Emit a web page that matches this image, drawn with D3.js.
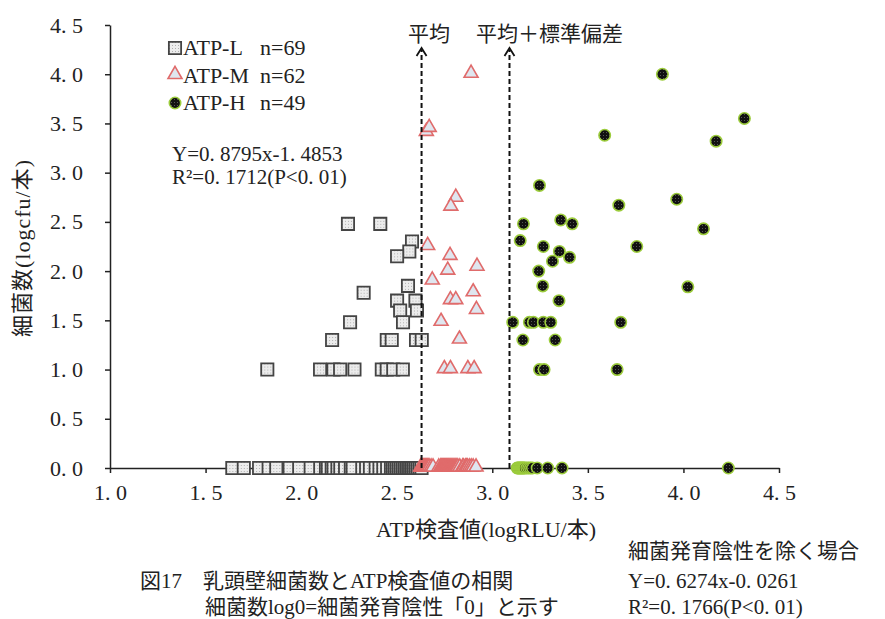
<!DOCTYPE html>
<html>
<head>
<meta charset="utf-8">
<script src="https://cdn.jsdelivr.net/npm/d3@7"></script>
<style>
  body { margin: 0; background: #fff; }
  text { font-family: "Liberation Serif", "Noto Sans CJK JP", serif; fill: #222; }
</style>
</head>
<body>
<div class="chart"></div>
<script>
// tick values
const xTicks = [1.0, 1.5, 2.0, 2.5, 3.0, 3.5, 4.0, 4.5];
const yTicks = [0.0, 0.5, 1.0, 1.5, 2.0, 2.5, 3.0, 3.5, 4.0, 4.5];

// reference lines (mean, mean + SD)
const meanX = 2.63, meanSdX = 3.09;

// ATP-L (n=69): [ATP, bacteria]
const atpL = [
  [2.245, 2.48], [2.414, 2.48], [2.58, 2.30], [2.566, 2.20], [2.502, 2.15],
  [2.327, 1.78], [2.559, 1.85], [2.502, 1.70], [2.598, 1.70], [2.518, 1.60],
  [2.606, 1.60], [2.256, 1.48], [2.533, 1.48], [2.162, 1.30], [2.448, 1.30],
  [2.474, 1.30], [2.601, 1.30], [2.631, 1.30],
  [1.823, 1.0], [2.099, 1.0], [2.169, 1.0], [2.204, 1.0], [2.279, 1.0],
  [2.422, 1.0], [2.448, 1.0], [2.482, 1.0], [2.532, 1.0]
];
const atpLZero = [1.64, 1.70, 1.78, 1.83, 1.87, 1.94, 1.99, 2.05, 2.10, 2.13,
  2.14, 2.16, 2.17, 2.19, 2.205, 2.23, 2.26, 2.27, 2.32, 2.34, 2.36, 2.39, 2.41,
  2.43, 2.45, 2.47, 2.48, 2.49, 2.50, 2.51, 2.52, 2.53, 2.54, 2.55, 2.56, 2.57,
  2.58, 2.59, 2.60, 2.61, 2.62, 2.63];

// ATP-M (n=62)
const atpM = [
  [2.889, 4.0], [2.655, 3.41], [2.67, 3.45], [2.809, 2.74], [2.783, 2.65],
  [2.662, 2.25], [2.779, 2.15], [2.767, 2.0], [2.92, 2.04], [2.686, 1.90],
  [2.781, 1.70], [2.809, 1.70], [2.90, 1.78], [2.917, 1.60], [2.732, 1.48],
  [2.828, 1.30], [2.749, 1.0], [2.781, 1.0], [2.872, 1.0], [2.905, 1.0]
];
const atpMZero = [2.625, 2.63, 2.635, 2.64, 2.645, 2.65, 2.655, 2.66, 2.665, 2.67,
  2.68, 2.69, 2.72, 2.73, 2.735, 2.74, 2.745, 2.75, 2.755, 2.76, 2.765, 2.77,
  2.775, 2.78, 2.785, 2.79, 2.795, 2.80, 2.805, 2.81, 2.815, 2.82, 2.83, 2.845,
  2.85, 2.86, 2.865, 2.87, 2.88, 2.89, 2.90, 2.915];

// ATP-H (n=49)
const atpH = [
  [3.89, 4.0], [4.319, 3.55], [3.588, 3.38], [4.171, 3.32], [3.247, 2.87],
  [3.662, 2.67], [3.965, 2.73], [4.105, 2.43], [3.163, 2.48], [3.358, 2.52],
  [3.418, 2.48], [3.146, 2.31], [3.267, 2.25], [3.351, 2.20], [3.756, 2.25],
  [3.404, 2.14], [3.315, 2.10], [3.243, 2.0], [3.264, 1.85], [4.023, 1.84],
  [3.349, 1.70], [3.107, 1.48], [3.194, 1.48], [3.215, 1.48], [3.267, 1.48],
  [3.306, 1.48], [3.672, 1.48], [3.16, 1.30], [3.329, 1.30],
  [3.247, 1.0], [3.271, 1.0], [3.653, 1.0]
];
const atpHZero = [3.13, 3.135, 3.14, 3.145, 3.15, 3.155, 3.16, 3.165, 3.17,
  3.18, 3.19, 3.20, 3.21, 3.235, 3.29, 3.365, 4.235];

const W = 885, H = 619;
const svg = d3.select(".chart").append("svg")
  .attr("width", W).attr("height", H);

const x = d3.scaleLinear().domain([1, 4.5]).range([110, 779]);
const y = d3.scaleLinear().domain([0, 4.5]).range([468, 25]);

// fill patterns
const defs = svg.append("defs");
const pL = defs.append("pattern").attr("id", "dotL")
  .attr("width", 3).attr("height", 3).attr("patternUnits", "userSpaceOnUse");
pL.append("rect").attr("width", 3).attr("height", 3).attr("fill", "#ececec");
pL.append("rect").attr("width", 1).attr("height", 1).attr("fill", "#b0b0b0");
const pH = defs.append("pattern").attr("id", "dotH")
  .attr("width", 3).attr("height", 3).attr("patternUnits", "userSpaceOnUse");
pH.append("rect").attr("width", 3).attr("height", 3).attr("fill", "#111");
pH.append("rect").attr("width", 1).attr("height", 1).attr("fill", "#555");

const fmt = d => d.toFixed(1).replace(".", ". ");

// axes
svg.append("g")
  .attr("transform", `translate(0,${y(0)})`)
  .call(d3.axisBottom(x).tickValues(xTicks).tickSize(5).tickSizeOuter(0).tickFormat(fmt))
  .call(g => g.selectAll("text").attr("dy", "1.1em").style("font-size", "22px"));
svg.append("g")
  .attr("transform", `translate(${x(1)},0)`)
  .call(d3.axisLeft(y).tickValues(yTicks).tickSize(5).tickSizeOuter(0).tickFormat(fmt))
  .call(g => g.selectAll("text").attr("x", -27).style("font-size", "22px"));
svg.selectAll(".domain, .tick line").attr("stroke", "#222").attr("stroke-width", 1.5);
svg.selectAll(".tick text").attr("fill", "#222").style("font-family", '"Liberation Serif", serif');

const sq = d3.symbol().type(d3.symbolSquare).size(150);
const tri = d3.symbol().type(d3.symbolTriangle).size(84);

function drawL(g, pts) {
  g.selectAll(null).data(pts).join("path")
    .attr("d", sq)
    .attr("transform", d => `translate(${x(d[0])},${y(d[1])})`)
    .attr("fill", "url(#dotL)").attr("stroke", "#444").attr("stroke-width", 1.8);
}
function drawM(g, pts) {
  g.selectAll(null).data(pts).join("path")
    .attr("d", tri)
    .attr("transform", d => `translate(${x(d[0])},${y(d[1]) - 1})`)
    .attr("fill", "#dfe6ef").attr("stroke", "#e06b6b").attr("stroke-width", 1.6);
}
function drawH(g, pts) {
  g.selectAll(null).data(pts).join("circle")
    .attr("cx", d => x(d[0])).attr("cy", d => y(d[1])).attr("r", 5.7)
    .attr("fill", "url(#dotH)").attr("stroke", "#9ccc3c").attr("stroke-width", 1.6);
}

const marks = svg.append("g");
drawL(marks.append("g"), atpL.concat(atpLZero.map(v => [v, 0])));
drawM(marks.append("g"), atpM.concat(atpMZero.map(v => [v, 0])));
drawH(marks.append("g"), atpH.concat(atpHZero.map(v => [v, 0])));

// dashed reference lines with arrow heads
[meanX, meanSdX].forEach(v => {
  svg.append("line")
    .attr("x1", x(v)).attr("x2", x(v)).attr("y1", y(0)).attr("y2", 50)
    .attr("stroke", "#111").attr("stroke-width", 2).attr("stroke-dasharray", "5,3");
  svg.append("path")
    .attr("d", `M${x(v) - 5},56 L${x(v)},48 L${x(v) + 5},56`)
    .attr("fill", "none").attr("stroke", "#111").attr("stroke-width", 1.8);
});
svg.append("text").attr("x", 408).attr("y", 41).style("font-size", "21px").text("平均");
svg.append("text").attr("x", 476).attr("y", 41).style("font-size", "21px").text("平均＋標準偏差");

// legend
const legend = [["ATP-L", "n=69", drawL], ["ATP-M", "n=62", drawM], ["ATP-H", "n=49", drawH]];
const lg = svg.append("g");
legend.forEach((d, i) => {
  const ly = 48 + i * 27.5;
  const g = lg.append("g");
  d[2](g, [[x.invert(175), y.invert(ly)]]);
  const t = lg.append("text").attr("y", ly + 7).style("font-size", "22px");
  t.append("tspan").attr("x", 183).text(d[0]);
  t.append("tspan").attr("x", 260).text(d[1]);
});

// regression text
svg.append("text").attr("x", 172).attr("y", 161).style("font-size", "21px").text("Y=0. 8795x-1. 4853");
svg.append("text").attr("x", 172).attr("y", 184).style("font-size", "21px").text("R²=0. 1712(P<0. 01)");

// axis titles
svg.append("text").attr("x", 486).attr("y", 537).attr("text-anchor", "middle")
  .style("font-size", "22px").text("ATP検査値(logRLU/本)");
svg.append("text").attr("transform", "translate(30,248) rotate(-90)").attr("text-anchor", "middle")
  .style("font-size", "22px").style("letter-spacing", "1px").text("細菌数(logcfu/本)");

// caption
const cap = [
  [628, 558, "細菌発育陰性を除く場合"],
  [140, 588, "図17　乳頭壁細菌数とATP検査値の相関"],
  [628, 588, "Y=0. 6274x-0. 0261"],
  [205, 614, "細菌数log0=細菌発育陰性「0」と示す"],
  [628, 614, "R²=0. 1766(P<0. 01)"]
];
cap.forEach(c => {
  svg.append("text").attr("x", c[0]).attr("y", c[1]).style("font-size", "21px").text(c[2]);
});
</script>
</body>
</html>
